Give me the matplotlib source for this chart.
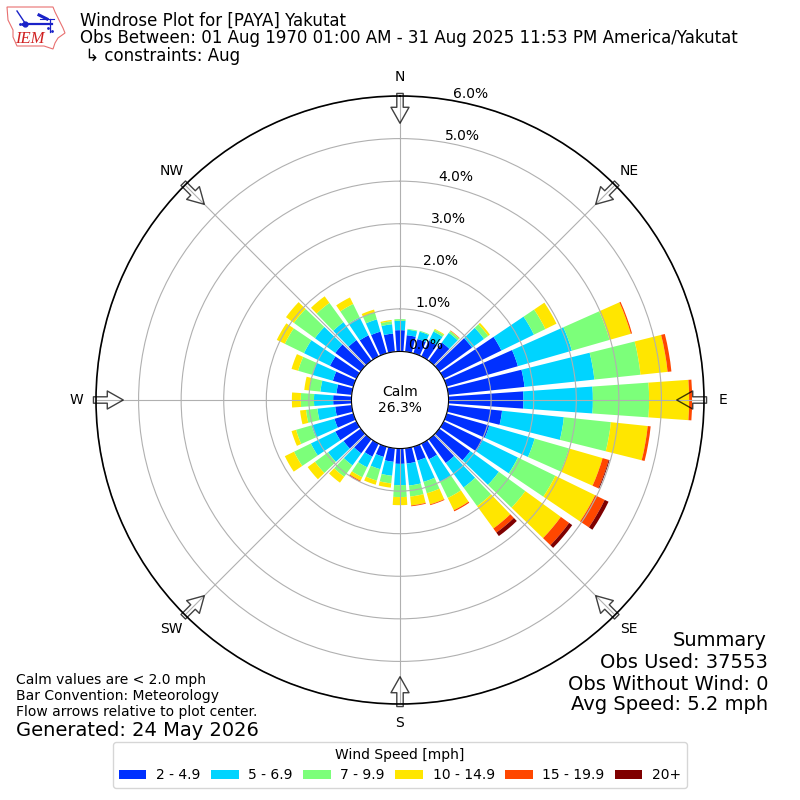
import numpy as np
import matplotlib
matplotlib.use("Agg")
import matplotlib.pyplot as plt
from matplotlib.patches import Polygon

# wind direction bins, degrees from north
directions = np.arange(0, 360, 10)

# percent of obs in each speed class, per direction
speed_labels = ["2 - 4.9", "5 - 6.9", "7 - 9.9", "10 - 14.9", "15 - 19.9", "20+"]
speed_colors = ["#0030ff", "#00d4ff", "#7cff7a", "#ffe600", "#ff4700", "#7f0000"]
s2 = [.50, .39, .35, .41, .53, .95, 1.51, 1.74, 1.80, 1.76, 1.27, 1.04, 1.02, .90, .69, .41, .34, .36,
      .36, .32, .25, .34, .41, .50, .55, .46, .39, .43, .36, .50, .69, .74, .60, .55, .53, .43]
s5 = [.22, .13, .18, .24, .28, .35, .85, 1.32, 1.65, 1.63, 1.46, 1.11, .92, .83, .71, .59, .52, .52,
      .50, .33, .30, .28, .35, .45, .64, .56, .42, .45, .38, .50, .68, .59, .52, .47, .30, .22]
s7 = [.04, .02, .02, .05, .05, .12, .30, .92, 1.09, 1.32, 1.11, .84, .98, .77, .54, .42, .28, .26,
      .28, .18, .28, .26, .33, .38, .44, .38, .27, .31, .26, .35, .50, .61, .56, .35, .17, .07]
s10 = [0, 0, 0, .02, .01, .05, .29, .52, .64, .94, .87, .82, 1.04, 1.03, .65, .32, .27, .21,
       .19, .10, .10, .09, .17, .21, .24, .11, .14, .21, .12, .16, .21, .23, .19, .17, .07, .03]
s15 = [0, 0, 0, 0, .01, 0, 0, .03, .09, .07, .07, .15, .25, .24, .12, .03, .02, .02,
       0, 0, 0, .03, 0, 0, 0, 0, 0, 0, 0, 0, 0, 0, 0, 0, 0, 0]
s20 = [0, 0, 0, 0, 0, 0, 0, 0, 0, 0, 0, .02, .10, .09, .10, 0, 0, 0,
       0, 0, 0, 0, 0, 0, 0, 0, 0, 0, 0, 0, 0, 0, 0, 0, 0, 0]
speed_series = [s2, s5, s7, s10, s15, s20]

compass_angles = [0, 45, 90, 135, 180, 225, 270, 315]
compass_labels = ["N", "NE", "E", "SE", "S", "SW", "W", "NW"]
r_ticks = [0, 1, 2, 3, 4, 5, 6]

fig = plt.figure(figsize=(8, 8), dpi=100)
ax = fig.add_axes([96 / 800, 96 / 800, 608 / 800, 608 / 800], projection="polar")
ax.set_theta_zero_location("N")
ax.set_theta_direction(-1)

# stacked bars
theta = np.radians(directions)
bottom = np.zeros(len(directions))
handles = []
for vals, lab, col in zip(speed_series, speed_labels, speed_colors):
    bars = ax.bar(theta, vals, width=np.radians(8), bottom=bottom, color=col, linewidth=0, label=lab)
    handles.append(bars)
    bottom = bottom + np.array(vals)

ax.set_rorigin(-1.14)
ax.set_ylim(0, 6)
ax.set_rgrids(r_ticks, [f"{v:.1f}%" for v in r_ticks], angle=10)
ax.set_thetagrids(compass_angles, compass_labels)
ax.tick_params(axis="x", pad=3.5)
ax.spines["polar"].set_linewidth(1.2)

# flow arrows pointing at the center
for ang in compass_angles:
    ax.annotate("", xy=(np.radians(ang), 5.36), xytext=(np.radians(ang), 6.06),
                annotation_clip=False,
                arrowprops=dict(facecolor="none", edgecolor="black", alpha=0.75, linewidth=1,
                                width=4.6, headwidth=13, headlength=11.5, shrink=0))

fig.text(0.5, 0.5, "Calm\n26.3%", ha="center", va="center", fontsize=10)

# header
fig.text(80 / 800, 1 - 21 / 800, "Windrose Plot for [PAYA] Yakutat", fontsize=12, va="center")
fig.text(80 / 800, 1 - 38 / 800, "Obs Between: 01 Aug 1970 01:00 AM - 31 Aug 2025 11:53 PM America/Yakutat",
         fontsize=12, va="center")
fig.text(80 / 800, 1 - 56 / 800, " ↳ constraints: Aug", fontsize=12, va="center")

# little IEM logo
logo = fig.add_axes([0, 1 - 55 / 800, 70 / 800, 55 / 800])
logo.set_xlim(0, 70)
logo.set_ylim(55, 0)
logo.axis("off")
outline = [(7, 7), (53, 7), (55, 12), (60, 22), (63, 28), (65, 33), (58, 38), (55, 43), (53, 49),
           (44, 46), (17, 46), (13, 37), (13, 30), (8, 20)]
logo.add_patch(Polygon(outline, closed=True, fill=False, edgecolor="#e87070", linewidth=0.8))
logo.plot([25, 52], [23.5, 23.5], color="#1a22c8", linewidth=1.6)
logo.plot([17, 25], [11, 23], color="#1a22c8", linewidth=1)
logo.plot([39, 47], [15, 19], color="#1a22c8", linewidth=2.2)
logo.plot([40, 54], [19, 19], color="#1a22c8", linewidth=0.8)
logo.plot([50, 50], [19, 32], color="#1a22c8", linewidth=0.9)
logo.plot([25], [23.5], "o", color="#1a22c8", markersize=3.5)
logo.plot([20, 22, 48, 52], [24, 24, 28, 31], ".", color="#1a22c8", markersize=2)
logo.text(30, 39, "IEM", family="Liberation Serif", style="italic", color="#d02020", fontsize=12,
          ha="center", va="center")

# footer notes
fig.text(16 / 800, 1 - 680 / 800, "Calm values are < 2.0 mph", fontsize=10, va="center")
fig.text(16 / 800, 1 - 696 / 800, "Bar Convention: Meteorology", fontsize=10, va="center")
fig.text(16 / 800, 1 - 712 / 800, "Flow arrows relative to plot center.", fontsize=10, va="center")
fig.text(16 / 800, 1 - 730 / 800, "Generated: 24 May 2026", fontsize=14, va="center")

fig.text(767 / 800, 1 - 640 / 800, "Summary", fontsize=14, ha="right", va="center")
fig.text(768 / 800, 1 - 662 / 800, "Obs Used: 37553", fontsize=14, ha="right", va="center")
fig.text(768 / 800, 1 - 684 / 800, "Obs Without Wind: 0", fontsize=14, ha="right", va="center")
fig.text(768 / 800, 1 - 705 / 800, "Avg Speed: 5.2 mph", fontsize=14, ha="right", va="center")

fig.legend(handles=handles, title="Wind Speed [mph]", ncol=6, loc="lower center",
           bbox_to_anchor=(0.5, 0.0063), fontsize=10, handlelength=2, handletextpad=0.7,
           columnspacing=0.73)

fig.savefig("out.png", dpi=100)
